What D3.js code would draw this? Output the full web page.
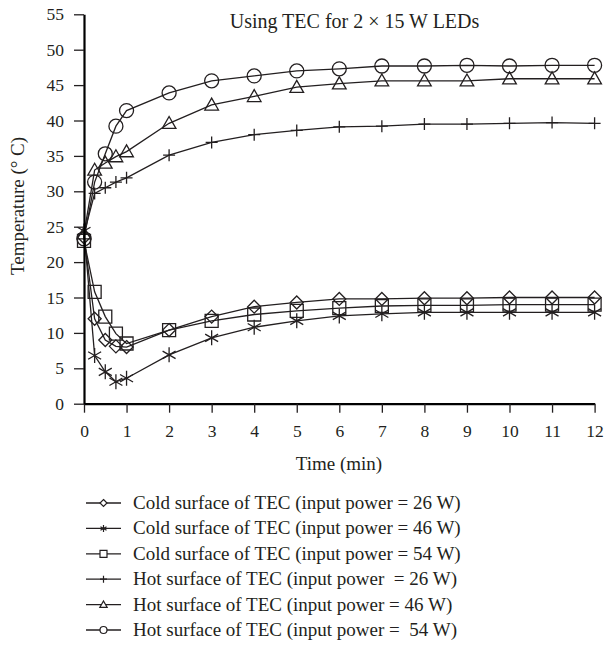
<!DOCTYPE html>
<html><head><meta charset="utf-8">
<script src="https://cdn.jsdelivr.net/npm/d3@7"></script>
<style>
body{margin:0;background:#fff;}
text{font-family:"Liberation Serif","Times New Roman",serif;fill:#231f20;}
</style></head>
<body><svg id="c" width="605" height="648"></svg>
<script>
const times = [0,0.25,0.5,0.75,1,2,3,4,5,6,7,8,9,10,11,12];
const cold26 = [23.5,12.0,9.0,8.1,8.0,10.4,12.3,13.7,14.3,14.8,14.8,14.9,14.9,15.0,15.0,15.0];
const cold46 = [24.4,6.8,4.5,3.1,3.6,6.9,9.3,10.8,11.7,12.4,12.7,12.9,12.9,12.9,12.9,12.9];
const cold54 = [23.0,15.8,12.3,9.9,8.5,10.4,11.7,12.6,13.1,13.5,13.8,13.9,13.9,14.0,14.0,14.0];
const hot26  = [24.0,29.7,30.5,31.3,31.9,35.1,36.9,38.0,38.6,39.1,39.2,39.5,39.5,39.6,39.7,39.6];
const hot46  = [24.0,33.0,34.0,34.9,35.6,39.6,42.2,43.4,44.7,45.2,45.6,45.6,45.6,45.9,45.9,45.9];
const hot54  = [23.3,31.3,35.3,39.2,41.4,43.9,45.6,46.3,47.0,47.3,47.7,47.7,47.8,47.7,47.8,47.8];
const seriesNames = [
  "Cold surface of TEC (input power = 26 W)",
  "Cold surface of TEC (input power = 46 W)",
  "Cold surface of TEC (input power = 54 W)",
  "Hot surface of TEC (input power  = 26 W)",
  "Hot surface of TEC (input power = 46 W)",
  "Hot surface of TEC (input power =  54 W)"
];
const markerTypes = ["diamond","asterisk","square","plus","triangle","circle"];
const xTicks = [0,1,2,3,4,5,6,7,8,9,10,11,12];
const yTicks = [0,5,10,15,20,25,30,35,40,45,50,55];
const title = "Using TEC for 2 \u00d7 15 W LEDs";

const seriesData = [cold26,cold46,cold54,hot26,hot46,hot54];

const svg = d3.select("#c");
const x = d3.scaleLinear().domain([0,12]).range([84,594.6]);
const y = d3.scaleLinear().domain([0,55]).range([403.7,14.3]);

function markerPath(type, s){
  const p = d3.path();
  const h = s/2;
  if(type==="circle"){ p.moveTo(h,0); p.arc(0,0,h,0,2*Math.PI); }
  else if(type==="square"){ p.rect(-h,-h,s,s); }
  else if(type==="diamond"){ p.moveTo(0,-h); p.lineTo(h,0); p.lineTo(0,h); p.lineTo(-h,0); p.closePath(); }
  else if(type==="triangle"){ const t=h*1.05; p.moveTo(0,-t); p.lineTo(t,t*0.75); p.lineTo(-t,t*0.75); p.closePath(); }
  else if(type==="plus"){ p.moveTo(-h,0); p.lineTo(h,0); p.moveTo(0,-h); p.lineTo(0,h); }
  else if(type==="asterisk"){
    p.moveTo(0,-h); p.lineTo(0,h);
    const a=h*Math.cos(Math.PI/6), b=h*Math.sin(Math.PI/6);
    p.moveTo(-a,-b); p.lineTo(a,b); p.moveTo(-a,b); p.lineTo(a,-b);
  }
  return p.toString();
}
const markerSize = {circle:14,square:13,diamond:13,triangle:13,plus:12,asterisk:15};

// lines & markers
const line = d3.line().x((d,i)=>x(times[i])).y(d=>y(d));
seriesData.forEach((vals,k)=>{
  svg.append("path").attr("d",line(vals)).attr("fill","none")
    .attr("stroke","#231f20").attr("stroke-width",1.3);
});
seriesData.forEach((vals,k)=>{
  const t = markerTypes[k];
  svg.append("g").selectAll("path").data(vals).join("path")
    .attr("transform",(d,i)=>`translate(${x(times[i])},${y(d)})`)
    .attr("d",markerPath(t,markerSize[t]))
    .attr("fill","none").attr("stroke","#231f20").attr("stroke-width",1.3);
});

// axes
const xAxis = d3.axisBottom(x).tickValues(xTicks).tickSize(9).tickPadding(9).tickSizeOuter(0);
const gx = svg.append("g").attr("transform","translate(0,403.7)").call(xAxis);
const yAxis = d3.axisLeft(y).tickValues(yTicks).tickSize(10).tickPadding(10).tickSizeOuter(0);
const gy = svg.append("g").attr("transform","translate(84,0)").call(yAxis);
[gx,gy].forEach(g=>{
  g.select(".domain").attr("stroke","#000").attr("stroke-width",2.2);
  g.selectAll(".tick line").attr("stroke","#231f20").attr("stroke-width",1.3);
  g.selectAll(".tick text").attr("font-family","Liberation Serif, serif").attr("font-size",17.5).attr("fill","#231f20");
});
gx.selectAll(".tick text").attr("dy",null).attr("y",33.5);

// labels
svg.append("text").attr("x",339).attr("y",470).attr("text-anchor","middle")
  .attr("font-size",19).text("Time (min)");
svg.append("text").attr("transform","translate(24,206) rotate(-90)").attr("text-anchor","middle")
  .attr("font-size",19).attr("xml:space","preserve").text("Temperature (\u00b0 C)");
svg.append("text").attr("x",354.5).attr("y",28).attr("text-anchor","middle")
  .attr("font-size",20).text(title);

// legend
const lg = svg.append("g");
seriesNames.forEach((name,k)=>{
  const yy = 503 + k*25.4;
  lg.append("line").attr("x1",86).attr("x2",121).attr("y1",yy).attr("y2",yy)
    .attr("stroke","#231f20").attr("stroke-width",1.3);
  lg.append("path").attr("transform",`translate(103.5,${yy})`)
    .attr("d",markerPath(markerTypes[k],7)).attr("fill",markerTypes[k]==="asterisk"?"none":"#fff")
    .attr("stroke","#231f20").attr("stroke-width",1.2);
  lg.append("text").attr("x",133).attr("y",yy+6).attr("font-size",19).attr("xml:space","preserve").text(name);
});
</script></body></html>
